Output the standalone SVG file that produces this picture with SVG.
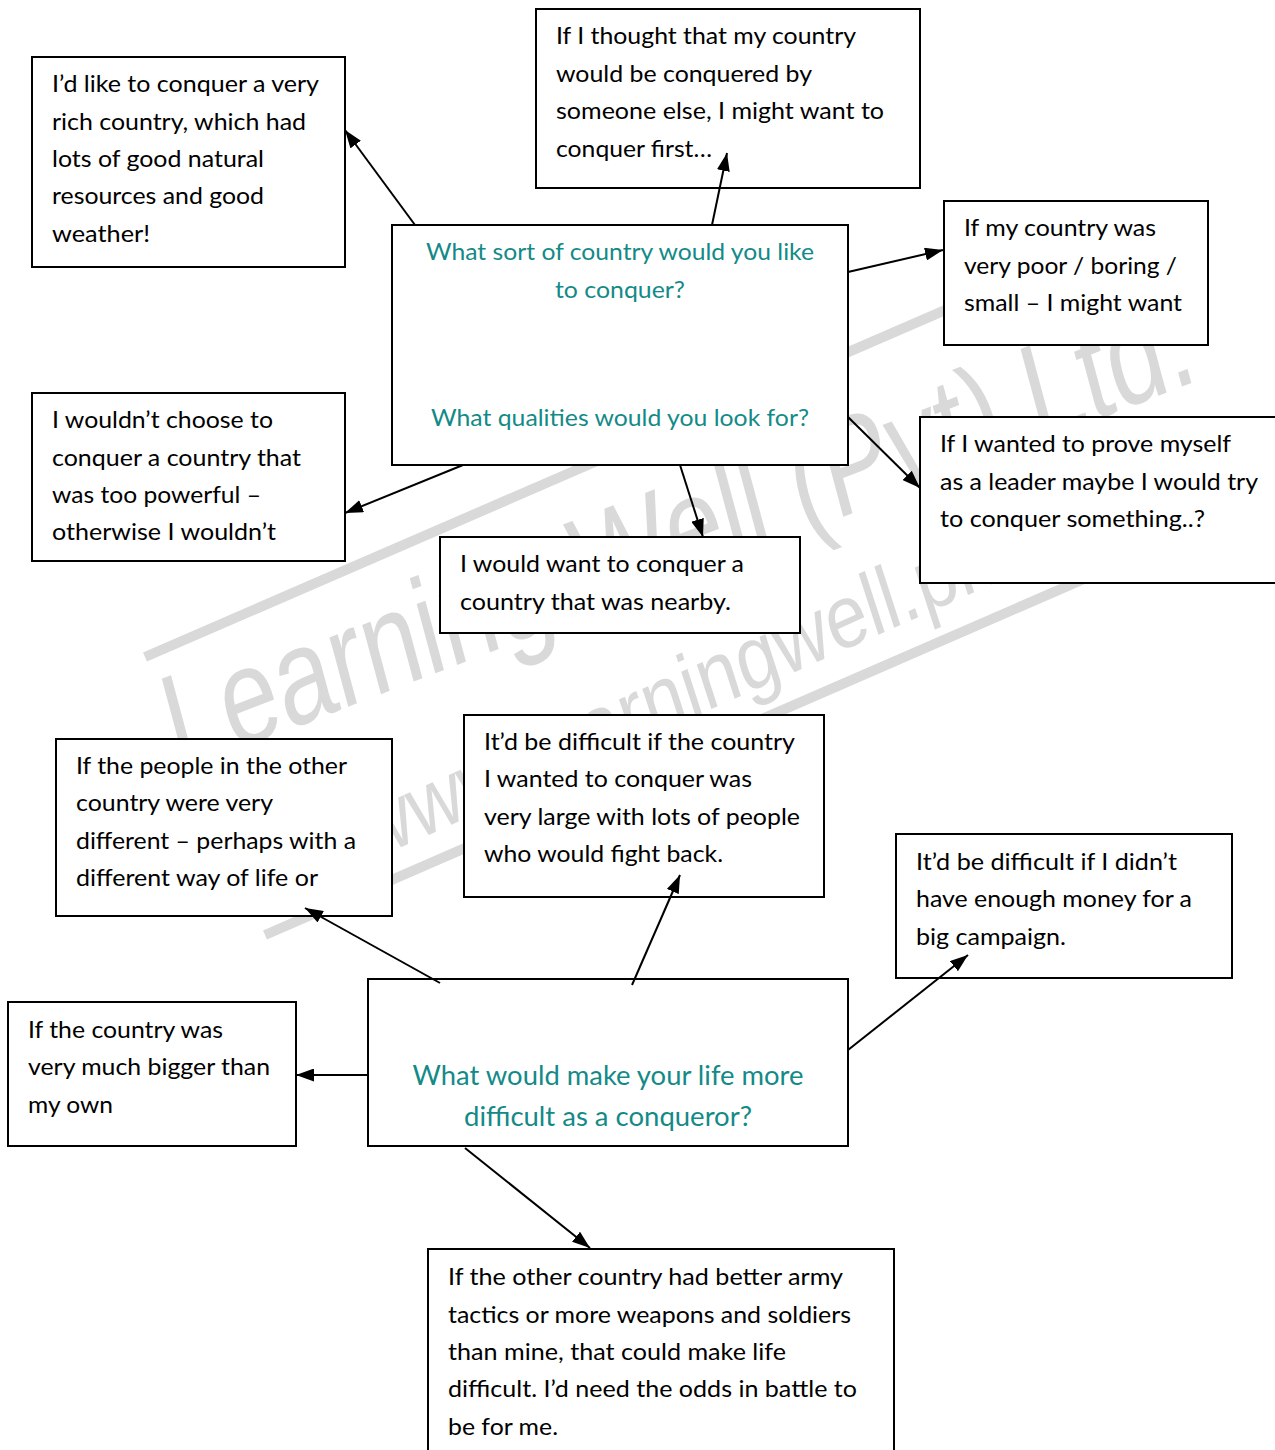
<svg xmlns="http://www.w3.org/2000/svg" width="1275" height="1450" viewBox="0 0 1275 1450">
<defs>
<marker id="arr" markerUnits="userSpaceOnUse" viewBox="0 0 18 13" refX="18" refY="6.5" markerWidth="18" markerHeight="13" orient="auto">
<path d="M0,0 L18,6.5 L0,13 z" fill="#000"/>
</marker>
<style>
.box{fill:#fff;stroke:#000;stroke-width:2}
.t{font-family:Lato,"Liberation Sans",sans-serif;font-size:24px;fill:#000}
.q{font-family:Lato,"Liberation Sans",sans-serif;font-size:24px;fill:#138a88;text-anchor:middle}
.q2{font-family:Lato,"Liberation Sans",sans-serif;font-size:27px;fill:#138a88;text-anchor:middle}
.c{stroke:#000;stroke-width:2;fill:none;marker-end:url(#arr)}
.wm{font-family:"Liberation Sans Narrow","Liberation Sans",sans-serif;fill:#d9d9d9}
.wl{stroke:#d9d9d9;stroke-width:10}
</style>
</defs>
<rect width="1275" height="1450" fill="#fff"/>
<g id="watermark">
<line class="wl" x1="145" y1="657" x2="1100" y2="243"/>
<line class="wl" x1="265" y1="935" x2="1100" y2="572"/>
<text class="wm" transform="translate(178,772) rotate(-21) skewX(-6)" font-size="135" textLength="1095" lengthAdjust="spacingAndGlyphs">Learning Well (Pvt) Ltd.</text>
<text class="wm" transform="translate(368,862) rotate(-24) skewX(-6)" font-size="88" textLength="690" lengthAdjust="spacingAndGlyphs">www.learningwell.pk</text>
</g>
<g id="n-rich">
<rect class="box" x="32" y="57" width="313" height="210"/>
<text class="t" x="52" y="92" textLength="267" lengthAdjust="spacingAndGlyphs">I’d like to conquer a very</text>
<text class="t" x="52" y="130" textLength="254" lengthAdjust="spacingAndGlyphs">rich country, which had</text>
<text class="t" x="52" y="167" textLength="212" lengthAdjust="spacingAndGlyphs">lots of good natural</text>
<text class="t" x="52" y="204" textLength="212" lengthAdjust="spacingAndGlyphs">resources and good</text>
<text class="t" x="52" y="242" textLength="98" lengthAdjust="spacingAndGlyphs">weather!</text>
</g>
<g id="n-first">
<rect class="box" x="536" y="9" width="384" height="179"/>
<text class="t" x="556" y="44" textLength="300" lengthAdjust="spacingAndGlyphs">If I thought that my country</text>
<text class="t" x="556" y="82" textLength="256" lengthAdjust="spacingAndGlyphs">would be conquered by</text>
<text class="t" x="556" y="119" textLength="328" lengthAdjust="spacingAndGlyphs">someone else, I might want to</text>
<text class="t" x="556" y="157" textLength="156" lengthAdjust="spacingAndGlyphs">conquer first…</text>
</g>
<g id="n-q1">
<rect class="box" x="392" y="225" width="456" height="240"/>
<text class="q" x="620" y="260" textLength="388" lengthAdjust="spacingAndGlyphs">What sort of country would you like</text>
<text class="q" x="620" y="298" textLength="130" lengthAdjust="spacingAndGlyphs">to conquer?</text>
<text class="q" x="620" y="426" textLength="378" lengthAdjust="spacingAndGlyphs">What qualities would you look for?</text>
</g>
<g id="n-poor">
<rect class="box" x="944" y="201" width="264" height="144"/>
<text class="t" x="964" y="236" textLength="192" lengthAdjust="spacingAndGlyphs">If my country was</text>
<text class="t" x="964" y="274" textLength="213" lengthAdjust="spacingAndGlyphs">very poor / boring /</text>
<text class="t" x="964" y="311" textLength="218" lengthAdjust="spacingAndGlyphs">small – I might want</text>
</g>
<g id="n-leader">
<rect class="box" x="920" y="417" width="370" height="166"/>
<text class="t" x="940" y="452" textLength="291" lengthAdjust="spacingAndGlyphs">If I wanted to prove myself</text>
<text class="t" x="940" y="490" textLength="318" lengthAdjust="spacingAndGlyphs">as a leader maybe I would try</text>
<text class="t" x="940" y="527" textLength="265" lengthAdjust="spacingAndGlyphs">to conquer something..?</text>
</g>
<g id="n-powerful">
<rect class="box" x="32" y="393" width="313" height="168"/>
<text class="t" x="52" y="428" textLength="221" lengthAdjust="spacingAndGlyphs">I wouldn’t choose to</text>
<text class="t" x="52" y="466" textLength="249" lengthAdjust="spacingAndGlyphs">conquer a country that</text>
<text class="t" x="52" y="503" textLength="209" lengthAdjust="spacingAndGlyphs">was too powerful –</text>
<text class="t" x="52" y="540" textLength="224" lengthAdjust="spacingAndGlyphs">otherwise I wouldn’t</text>
</g>
<g id="n-nearby">
<rect class="box" x="440" y="537" width="360" height="96"/>
<text class="t" x="460" y="572" textLength="284" lengthAdjust="spacingAndGlyphs">I would want to conquer a</text>
<text class="t" x="460" y="610" textLength="271" lengthAdjust="spacingAndGlyphs">country that was nearby.</text>
</g>
<g id="n-people">
<rect class="box" x="56" y="739" width="336" height="177"/>
<text class="t" x="76" y="774" textLength="271" lengthAdjust="spacingAndGlyphs">If the people in the other</text>
<text class="t" x="76" y="811" textLength="197" lengthAdjust="spacingAndGlyphs">country were very</text>
<text class="t" x="76" y="849" textLength="280" lengthAdjust="spacingAndGlyphs">different – perhaps with a</text>
<text class="t" x="76" y="886" textLength="242" lengthAdjust="spacingAndGlyphs">different way of life or</text>
</g>
<g id="n-large">
<rect class="box" x="464" y="715" width="360" height="182"/>
<text class="t" x="484" y="750" textLength="311" lengthAdjust="spacingAndGlyphs">It’d be difficult if the country</text>
<text class="t" x="484" y="787" textLength="268" lengthAdjust="spacingAndGlyphs">I wanted to conquer was</text>
<text class="t" x="484" y="825" textLength="316" lengthAdjust="spacingAndGlyphs">very large with lots of people</text>
<text class="t" x="484" y="862" textLength="239" lengthAdjust="spacingAndGlyphs">who would fight back.</text>
</g>
<g id="n-money">
<rect class="box" x="896" y="834" width="336" height="144"/>
<text class="t" x="916" y="870" textLength="261" lengthAdjust="spacingAndGlyphs">It’d be difficult if I didn’t</text>
<text class="t" x="916" y="907" textLength="276" lengthAdjust="spacingAndGlyphs">have enough money for a</text>
<text class="t" x="916" y="945" textLength="150" lengthAdjust="spacingAndGlyphs">big campaign.</text>
</g>
<g id="n-bigger">
<rect class="box" x="8" y="1002" width="288" height="144"/>
<text class="t" x="28" y="1038" textLength="195" lengthAdjust="spacingAndGlyphs">If the country was</text>
<text class="t" x="28" y="1075" textLength="242" lengthAdjust="spacingAndGlyphs">very much bigger than</text>
<text class="t" x="28" y="1113" textLength="85" lengthAdjust="spacingAndGlyphs">my own</text>
</g>
<g id="n-q2">
<rect class="box" x="368" y="979" width="480" height="167"/>
<text class="q2" x="608" y="1085" textLength="391" lengthAdjust="spacingAndGlyphs">What would make your life more</text>
<text class="q2" x="608" y="1126" textLength="288" lengthAdjust="spacingAndGlyphs">difficult as a conqueror?</text>
</g>
<g id="n-army">
<rect class="box" x="428" y="1249" width="466" height="220"/>
<text class="t" x="448" y="1285" textLength="395" lengthAdjust="spacingAndGlyphs">If the other country had better army</text>
<text class="t" x="448" y="1323" textLength="403" lengthAdjust="spacingAndGlyphs">tactics or more weapons and soldiers</text>
<text class="t" x="448" y="1360" textLength="338" lengthAdjust="spacingAndGlyphs">than mine, that could make life</text>
<text class="t" x="448" y="1397" textLength="409" lengthAdjust="spacingAndGlyphs">difficult. I’d need the odds in battle to</text>
<text class="t" x="448" y="1435" textLength="110" lengthAdjust="spacingAndGlyphs">be for me.</text>
</g>
<g id="connectors">
<line class="c" x1="415" y1="225" x2="345" y2="130"/>
<line class="c" x1="712" y1="225" x2="727" y2="153"/>
<line class="c" x1="848" y1="272" x2="943" y2="250"/>
<line class="c" x1="848" y1="417" x2="920" y2="488"/>
<line class="c" x1="463" y1="465" x2="345" y2="513"/>
<line class="c" x1="680" y1="465" x2="703" y2="537"/>
<line class="c" x1="440" y1="983" x2="305" y2="908"/>
<line class="c" x1="632" y1="985" x2="680" y2="875"/>
<line class="c" x1="848" y1="1050" x2="968" y2="955"/>
<line class="c" x1="368" y1="1075" x2="296" y2="1075"/>
<line class="c" x1="465" y1="1148" x2="590" y2="1248"/>
</g>
</svg>
